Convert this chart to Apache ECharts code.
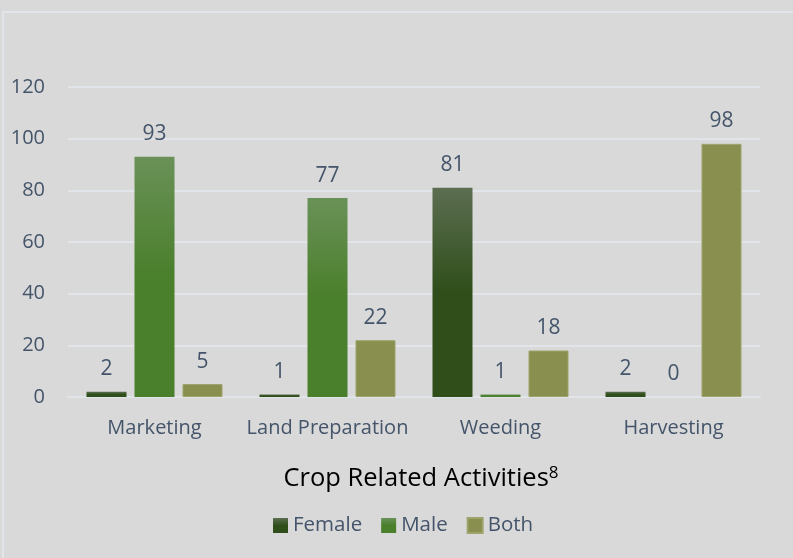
<!DOCTYPE html>
<html>
<head>
<meta charset="utf-8">
<script src="https://cdn.jsdelivr.net/npm/echarts@6/dist/echarts.min.js"></script>
<style>
  html, body { margin: 0; padding: 0; background: #d9d9d9; }
  #chart { width: 793px; height: 558px; }
</style>
</head>
<body>
<div id="chart"></div>
<script>
const categories = ["Marketing", "Land Preparation", "Weeding", "Harvesting"];
const female = [2, 1, 81, 2];
const male = [93, 77, 1, 0];
const both = [5, 22, 18, 98];
const yTicks = { min: 0, max: 120, interval: 20 };

const labelColor = "#44546a";
const font = "'Open Sans', sans-serif";

const grad = (top, bottom) =>
  new echarts.graphic.LinearGradient(0, 0, 0, 1, [
    { offset: 0, color: top },
    { offset: 0.5, color: bottom },
    { offset: 1, color: bottom },
  ]);

const barLabel = {
  show: true,
  position: "top",
  distance: 12,
  color: labelColor,
  fontSize: 21,
  fontFamily: font,
};

const chart = echarts.init(document.getElementById("chart"));

chart.setOption({
  backgroundColor: "#d9d9d9",
  animation: false,
  graphic: [
    {
      type: "rect",
      shape: { x: 3, y: 12, width: 820, height: 580 },
      style: { fill: "none", stroke: "#e1e4e9", lineWidth: 2 },
      silent: true,
    },
  ],
  grid: { left: 68, right: 33, top: 87, bottom: 161 },
  legend: {
    bottom: 17,
    left: 268,
    itemWidth: 15,
    itemHeight: 15,
    itemGap: 19,
    icon: "rect",
    textStyle: { color: labelColor, fontSize: 20.5, fontFamily: font },
    data: ["Female", "Male", "Both"],
  },
  xAxis: {
    type: "category",
    data: categories,
    axisTick: { show: false },
    axisLine: { lineStyle: { color: "#e1e4e9", width: 2 } },
    axisLabel: { interval: 0, color: labelColor, fontSize: 20, fontFamily: font, margin: 21 },
    name: "{t|Crop Related Activities}{s|8}",
    nameLocation: "middle",
    nameGap: 68,
    nameTextStyle: {
      rich: {
        t: { color: "#000000", fontSize: 25.5, fontFamily: font, padding: [0, 0, 0, 14] },
        s: { color: "#000000", fontSize: 17, fontFamily: font, verticalAlign: "top", padding: [0, 0, 10, 0] },
      },
    },
  },
  yAxis: {
    type: "value",
    min: yTicks.min,
    max: yTicks.max,
    interval: yTicks.interval,
    axisLine: { show: false },
    axisTick: { show: false },
    axisLabel: { color: labelColor, fontSize: 20, fontFamily: font, margin: 23 },
    splitLine: { lineStyle: { color: "#e1e4e9", width: 2 } },
  },
  series: [
    {
      name: "Female",
      type: "bar",
      data: female,
      barWidth: 40,
      barGap: "20%",
      itemStyle: { color: grad("#5c6e51", "#2f4e1a") },
      label: barLabel,
    },
    {
      name: "Male",
      type: "bar",
      data: male,
      barWidth: 40,
      itemStyle: { color: grad("#6a9158", "#4a7f2b") },
      label: barLabel,
    },
    {
      name: "Both",
      type: "bar",
      data: both,
      barWidth: 40,
      itemStyle: { color: "#89904f", borderColor: "#9da36b", borderWidth: 1 },
      label: barLabel,
    },
  ],
});
</script>
</body>
</html>
